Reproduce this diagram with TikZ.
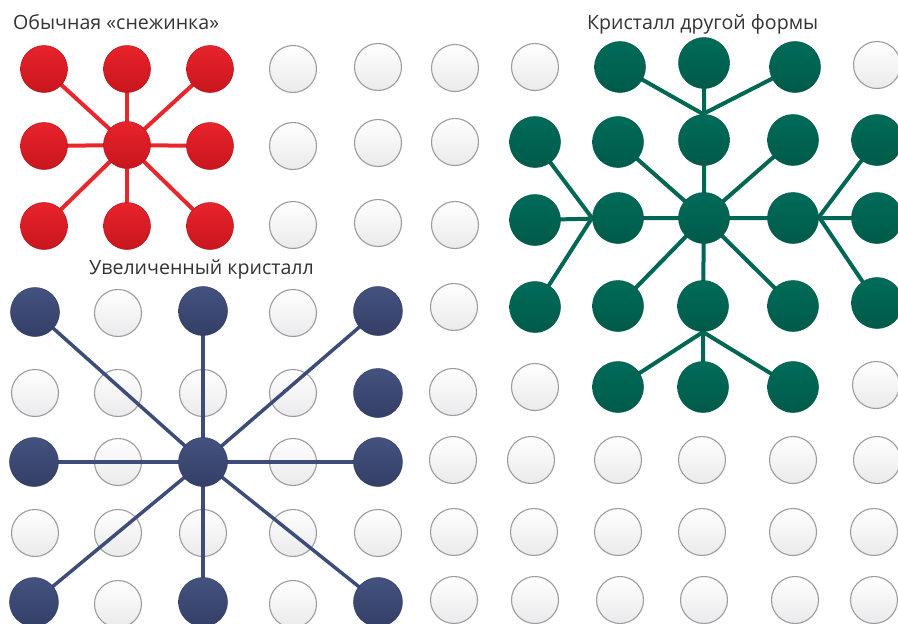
\documentclass[tikz,border=0pt]{standalone}
\usepackage{fontspec}
\setmainfont{Open Sans}
\definecolor{redT}{HTML}{E8232B}
\definecolor{redB}{HTML}{C8161E}
\definecolor{redD}{HTML}{B5141B}
\definecolor{redL}{HTML}{E8262C}
\definecolor{bluT}{HTML}{43527F}
\definecolor{bluB}{HTML}{343F66}
\definecolor{bluL}{HTML}{3E4C79}
\definecolor{grnT}{HTML}{006B59}
\definecolor{grnB}{HTML}{005A49}
\definecolor{grnL}{HTML}{006755}
\definecolor{txt}{HTML}{333333}
\definecolor{wEdge}{HTML}{9C9C9C}
\definecolor{wBot}{HTML}{EAEAEC}
\pgfdeclarelayer{bg}
\pgfdeclarelayer{lines}
\pgfsetlayers{bg,lines,main}
\tikzset{
  wc/.style={circle, minimum size=47pt, inner sep=0pt, draw=wEdge, line width=1.1pt, top color=white, bottom color=wBot},
  rc/.style={circle, minimum size=47pt, inner sep=0pt, draw=redD, line width=0.5pt, top color=redT, bottom color=redB},
  bc/.style={circle, minimum size=49pt, inner sep=0pt, draw=bluB, line width=0.5pt, top color=bluT, bottom color=bluB},
  gc/.style={circle, minimum size=51pt, inner sep=0pt, draw=grnB, line width=0.5pt, top color=grnT, bottom color=grnB},
  rl/.style={draw=redL, line width=4pt},
  bl/.style={draw=bluL, line width=3.5pt},
  gl/.style={draw=grnL, line width=4pt},
  lbl/.style={text=txt, font=\fontsize{19.6}{23}\selectfont, inner sep=0pt},
}
\begin{document}
\begin{tikzpicture}[x=1pt,y=-1pt]
\useasboundingbox (0,0) rectangle (898,624);
% white circles
\begin{pgfonlayer}{bg}
\foreach \x/\y [count=\i] in {293/69,378/67,293/146,378/143,293/225,378/223,
  455/68,455/142,455/225,454/307,453/392,453/460,454/532,454/600,
  535/67,535/387,531/460,534/532,535/600,
  618/460,618/532,620/600, 702/460,702/532,704/600, 793/460,793/532,795/600,
  877/65,876/385,877/460,874/532,874/600,
  118/313,293/313,35/393,118/393,203/393,293/393,118/462,293/462,
  35/533,118/533,203/533,293/533,378/533,118/604,293/604}
  \node[wc] (w\i) at (\x,\y) {};
\end{pgfonlayer}
% red snowflake
\node[rc] (r1) at (44,69) {};
\node[rc] (r2) at (127,69) {};
\node[rc] (r3) at (210,69) {};
\node[rc] (r4) at (44,146) {};
\node[rc] (r0) at (127,145) {};
\node[rc] (r6) at (210,146) {};
\node[rc] (r7) at (44,226) {};
\node[rc] (r8) at (127,226) {};
\node[rc] (r9) at (210,226) {};
% blue crystal
\node[bc] (b1) at (35,312) {};
\node[bc] (b2) at (203,311) {};
\node[bc] (b3) at (378,311) {};
\node[bc] (b4) at (378,393) {};
\node[bc] (b5) at (34,462) {};
\node[bc] (b0) at (203,462) {};
\node[bc] (b6) at (378,462) {};
\node[bc] (b7) at (34,602) {};
\node[bc] (b8) at (203,602) {};
\node[bc] (b9) at (378,602) {};
% green crystal
\node[gc] (g11) at (620,67) {};
\node[gc] (g12) at (704,63) {};
\node[gc] (g13) at (795,67) {};
\node[gc] (g21) at (535,142) {};
\node[gc] (g22) at (618,142) {};
\node[gc] (g23) at (704,140) {};
\node[gc] (g24) at (793,140) {};
\node[gc] (g25) at (877,140) {};
\node[gc] (g31) at (535,220) {};
\node[gc] (g32) at (618,218) {};
\node[gc] (g0) at (704,218) {};
\node[gc] (g34) at (793,218) {};
\node[gc] (g35) at (877,218) {};
\node[gc] (g41) at (535,307) {};
\node[gc] (g42) at (618,306) {};
\node[gc] (g43) at (703,306) {};
\node[gc] (g44) at (793,306) {};
\node[gc] (g45) at (877,303) {};
\node[gc] (g52) at (618,387) {};
\node[gc] (g53) at (703,387) {};
\node[gc] (g54) at (793,387) {};
\coordinate (gN) at (703,114);
\coordinate (gS) at (703,332);
\coordinate (gW) at (592,218);
\coordinate (gE) at (819,217);
% connectors
\begin{pgfonlayer}{lines}
\foreach \n in {r1,r2,r3,r4,r6,r7,r8,r9} \draw[rl] (r0.center) -- (\n.center);
\foreach \n in {b1,b2,b3,b5,b6,b7,b8,b9} \draw[bl] (b0.center) -- (\n.center);
\draw[gl] (g31.center) -- (g32.center) -- (g0.center) -- (g34.center) -- (g35.center);
\draw[gl] (g12.center) -- (g23.center) -- (g0.center) -- (g43.center) -- (g53.center);
\foreach \n in {g22,g24,g42,g44} \draw[gl] (g0.center) -- (\n.center);
\draw[gl] (g11.center) -- (gN) -- (g13.center);
\draw[gl] (g52.center) -- (gS) -- (g54.center);
\draw[gl] (g21.center) -- (gW) -- (g41.center);
\draw[gl] (g25.center) -- (gE) -- (g45.center);
\end{pgfonlayer}
% labels
\node[lbl, anchor=base west] (t1) at (13,29) {Обычная «снежинка»};
\node[lbl, anchor=base west] (t2) at (587,29) {Кристалл другой формы};
\node[lbl, anchor=base west] (t3) at (89,274) {Увеличенный кристалл};
\end{tikzpicture}
\end{document}
